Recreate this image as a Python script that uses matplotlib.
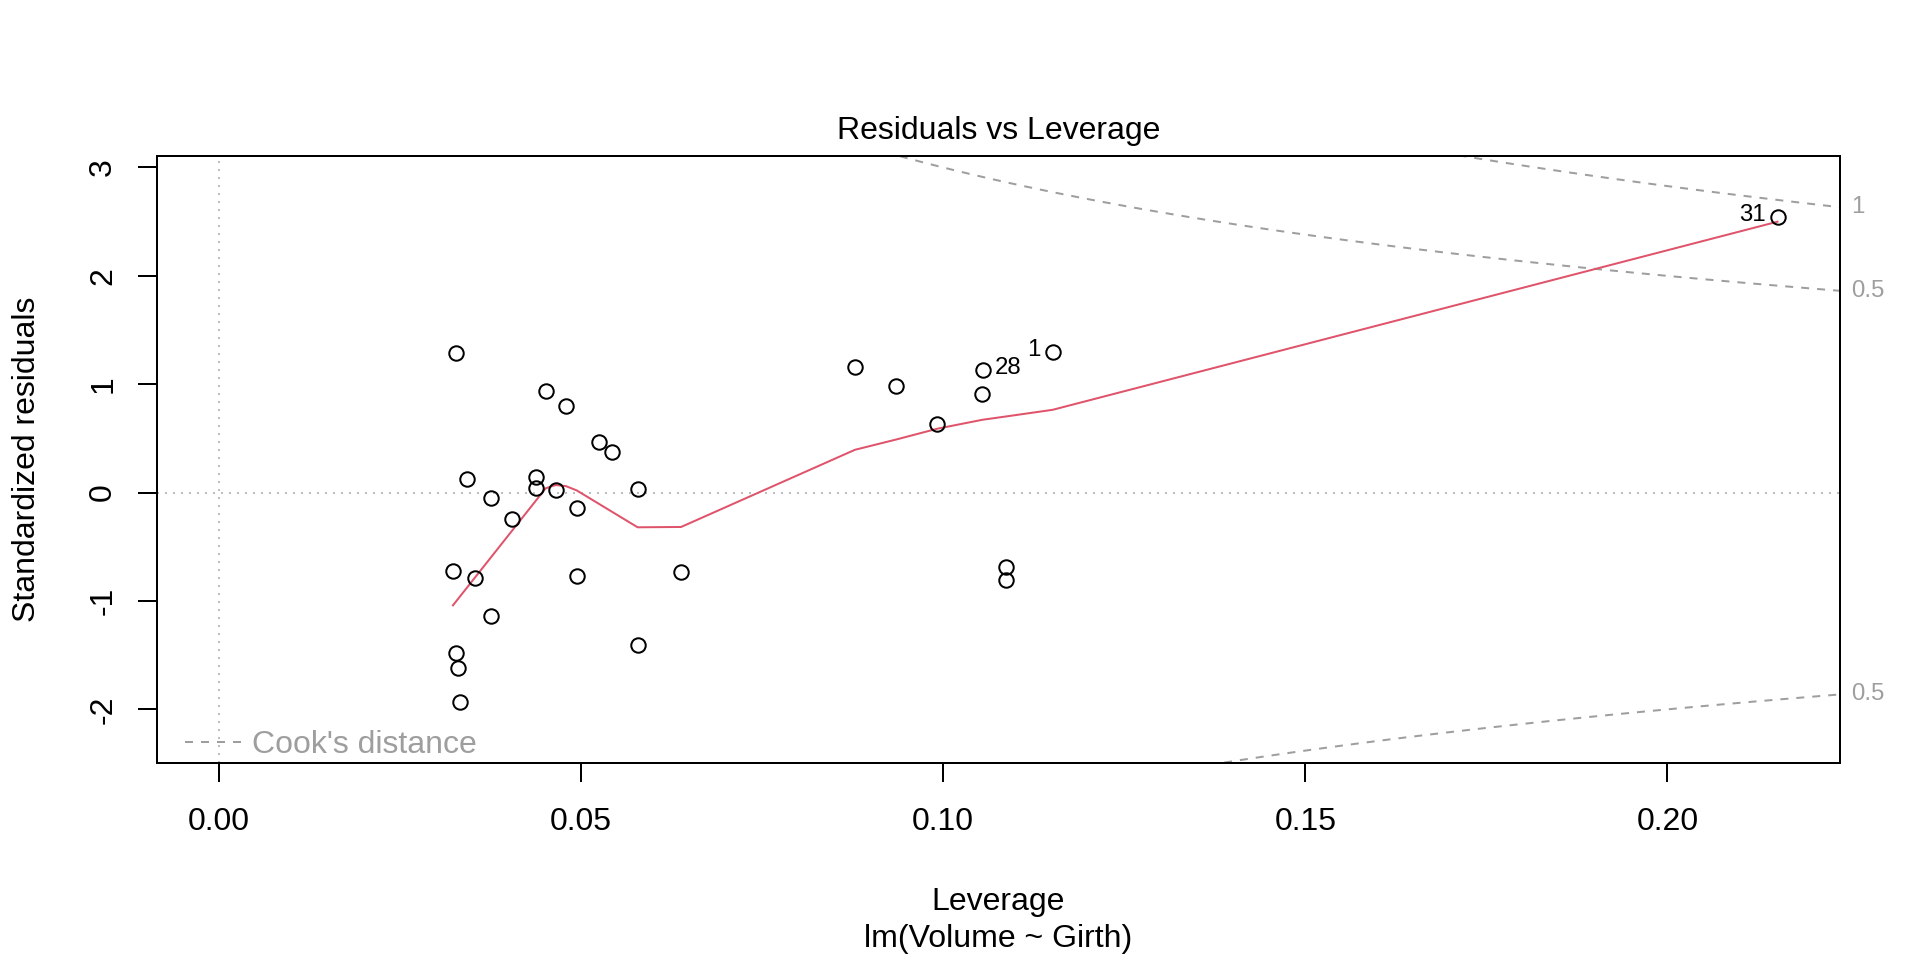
import numpy as np
import matplotlib
matplotlib.use("Agg")
import matplotlib.pyplot as plt

plt.rcParams['font.family'] = ['Liberation Sans', 'DejaVu Sans']
plt.rcParams['axes.unicode_minus'] = False

# ---------------------------------------------------------------
# values (trees data, lm(Volume ~ Girth))
# ---------------------------------------------------------------
leverage = [0.1151, 0.1054, 0.0992, 0.0578, 0.0542, 0.0525, 0.0494, 0.0494,
            0.0479, 0.0465, 0.0451, 0.0438, 0.0438, 0.0404, 0.0375, 0.0327,
            0.0327, 0.0323, 0.0330, 0.0333, 0.0342, 0.0353, 0.0376, 0.0579,
            0.0638, 0.0878, 0.0935, 0.1055, 0.1087, 0.1087, 0.2152]
std_resid = [1.299, 0.914, 0.635, 0.037, 0.372, 0.467, -0.767, -0.140,
             0.798, 0.026, 0.938, 0.046, 0.143, -0.247, -1.138, -1.484,
             1.290, -0.725, -1.616, -1.929, 0.125, -0.788, -0.051, -1.408,
             -0.737, 1.158, 0.986, 1.135, -0.683, -0.808, 2.545]
labelled = [31, 28, 1]   # observation numbers printed next to points

# smoother (red line) vertices
smooth_x = [0.0323, 0.0451, 0.0465, 0.0479, 0.0494, 0.0578, 0.0638,
            0.0878, 0.0935, 0.0992, 0.1054, 0.1087, 0.1151, 0.2152]
smooth_y = [-1.04, 0.04, 0.07, 0.06, 0.02, -0.32, -0.317,
            0.395, 0.49, 0.59, 0.672, 0.703, 0.764, 2.50]

cook_levels = [0.5, 1]
n_par = 2

xticks = [0.00, 0.05, 0.10, 0.15, 0.20]
xtick_labels = ["0.00", "0.05", "0.10", "0.15", "0.20"]
yticks = [-2, -1, 0, 1, 2, 3]
ytick_labels = ["-2", "-1", "0", "1", "2", "3"]

# ---------------------------------------------------------------
# figure layout (pixel geometry of an R png device)
# ---------------------------------------------------------------
W, H = 1920, 960
fs = 23.04       # 12pt at res 192
fs_small = 17.28
lw = 1.44
gray = '#9E9E9E'
light = '#BEBEBE'
red = '#DF536B'

fig = plt.figure(figsize=(W / 100, H / 100), dpi=100)
left, right, top, bottom = 156.7, 1840.0, 155.5, 763.0
ax = fig.add_axes([left / W, 1 - bottom / H, (right - left) / W, (bottom - top) / H])

xlim = (-0.00861, 0.22383)
ylim = (-2.4949, 3.1107)
ax.set_xlim(xlim)
ax.set_ylim(ylim)

# reference lines
ax.axhline(0, color=light, lw=lw, linestyle=(0, (1, 3)), zorder=1)
ax.axvline(0, color=light, lw=lw, linestyle=(0, (1, 3)), zorder=1)

# Cook's distance contours
hh = np.linspace(0.00105, xlim[1], 101)
for lev in cook_levels:
    cl = np.sqrt(lev * n_par * (1 - hh) / hh)
    ax.plot(hh, cl, color=gray, lw=lw, linestyle=(0, (4, 4)), zorder=2)
    ax.plot(hh, -cl, color=gray, lw=lw, linestyle=(0, (4, 4)), zorder=2)
    yr = np.sqrt(lev * n_par * (1 - xlim[1]) / xlim[1])
    for yy in (yr, -yr):
        if ylim[0] < yy < ylim[1]:
            ax.annotate(f"{lev:g}", xy=(1, yy), xycoords=('axes fraction', 'data'),
                        xytext=(10.7, 0), textcoords='offset pixels',
                        ha='left', va='center', color=gray, fontsize=fs_small,
                        annotation_clip=False)

# smoother
ax.plot(smooth_x, smooth_y, color=red, lw=lw, zorder=3)

# points
ax.plot(leverage, std_resid, linestyle='none', marker='o', markersize=10.4,
        markerfacecolor='none', markeredgecolor='black', markeredgewidth=lw, zorder=4)

mid = (xlim[0] + xlim[1]) / 2
for obs in labelled:
    xv, yv = leverage[obs - 1], std_resid[obs - 1]
    if xv > mid:
        ax.annotate(str(obs), xy=(xv, yv), xytext=(-12, 2), textcoords='offset pixels',
                    ha='right', va='center', fontsize=fs_small)
    else:
        ax.annotate(str(obs), xy=(xv, yv), xytext=(12, 2), textcoords='offset pixels',
                    ha='left', va='center', fontsize=fs_small)

# axes style
for sp in ax.spines.values():
    sp.set_linewidth(lw)
ax.set_xticks(xticks)
ax.set_xticklabels(xtick_labels)
ax.set_yticks(yticks)
ax.set_yticklabels(ytick_labels, rotation=90, va='center')
ax.tick_params(axis='both', direction='out', length=13.8, width=lw, labelsize=fs)
ax.tick_params(axis='x', pad=18)
ax.tick_params(axis='y', pad=13.9)

# legend (bottom left, no box)
ax.plot([185 / W, 243.3 / W], [1 - 742.3 / H, 1 - 742.3 / H], transform=fig.transFigure,
        color=gray, lw=lw, linestyle=(0, (4, 4)), clip_on=False)
fig.text(251.7 / W, 1 - 752.7 / H, "Cook's distance", color=gray, fontsize=fs,
         ha='left', va='baseline')

# titles and labels
cx = (left + right) / 2 / W
fig.text(cx, 1 - 139.3 / H, "Residuals vs Leverage", fontsize=fs, ha='center', va='baseline')
fig.text(cx, 1 - 910 / H, "Leverage", fontsize=fs, ha='center', va='baseline')
fig.text(cx, 1 - 947.3 / H, "lm(Volume ~ Girth)", fontsize=fs, ha='center', va='baseline')
fig.text(35 / W, 1 - (top + bottom) / 2 / H, "Standardized residuals", fontsize=fs,
         rotation=90, rotation_mode='anchor', ha='center', va='baseline')

fig.savefig("out.png", dpi=100)
